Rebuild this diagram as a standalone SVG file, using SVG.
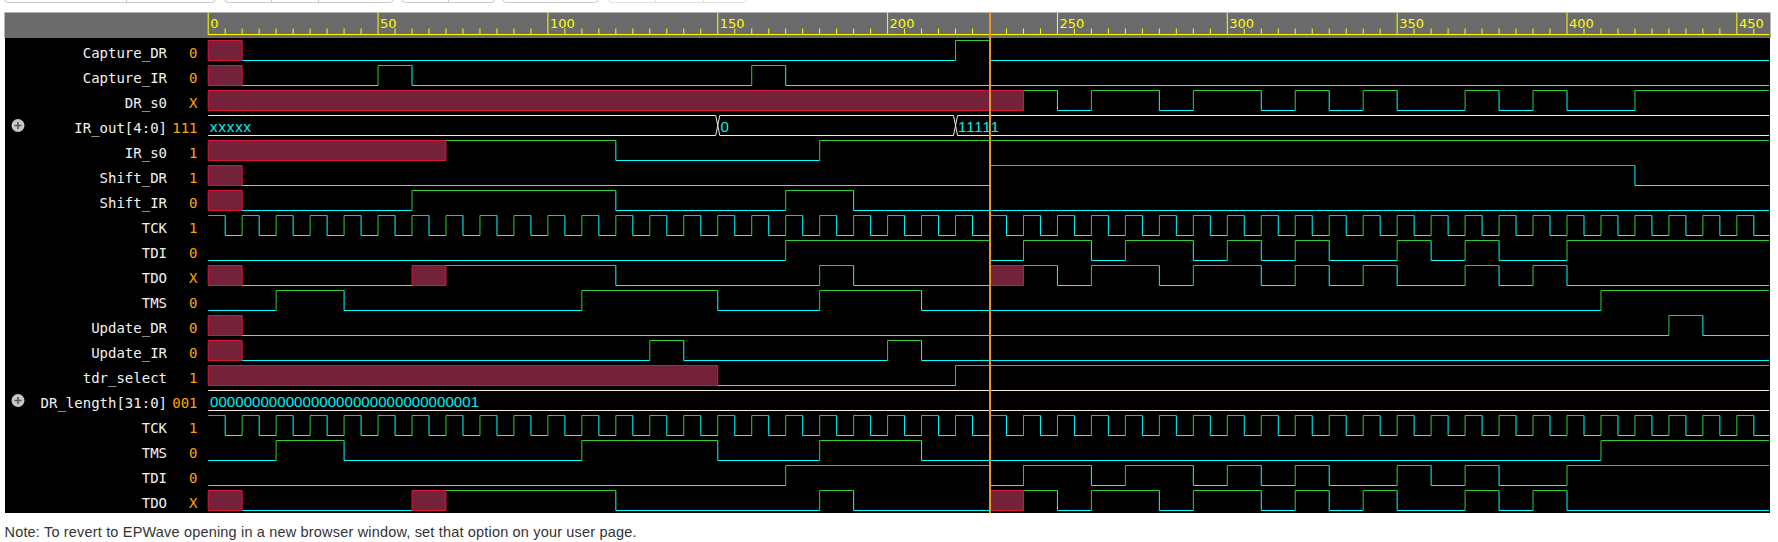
<svg xmlns="http://www.w3.org/2000/svg" width="1778" height="542" viewBox="0 0 1778 542">
<style>
.lbl{font-family:"DejaVu Sans Mono",monospace;font-size:14px;fill:#f2f2f2;text-anchor:end}
.val{font-family:"DejaVu Sans Mono",monospace;font-size:14px;fill:#ffa500;text-anchor:end}
.bt{font-family:"Liberation Sans",Arial,sans-serif;font-size:15px;fill:#00f0f0}
.rt{font-family:"DejaVu Sans",sans-serif;font-size:13px;fill:#ffff00}
.hi{fill:none;stroke:#32cd32;stroke-width:1;vector-effect:non-scaling-stroke}
.lo{fill:none;stroke:#00ffff;stroke-width:1;vector-effect:non-scaling-stroke}
.bus{fill:none;stroke:#f8ead8;stroke-width:1;vector-effect:non-scaling-stroke}
.x{fill:#73223a;stroke:#dc143c;stroke-width:1;vector-effect:non-scaling-stroke}
.rl{fill:none;stroke:#ffff00;stroke-width:1;vector-effect:non-scaling-stroke}
.btn{fill:#fff;stroke:#c8c8c8;stroke-width:1}
.btn2{fill:#fff;stroke:#e2e2e2;stroke-width:1}
</style>
<defs>
<g id="tck">
<path class="hi" d="M0,0H5 M10,20V0H15 M20,20V0H25 M30,20V0H35 M40,20V0H45 M50,20V0H55 M60,20V0H65 M70,20V0H75 M80,20V0H85 M90,20V0H95 M100,20V0H105 M110,20V0H115 M120,20V0H125 M130,20V0H135 M140,20V0H145 M150,20V0H155 M160,20V0H165 M170,20V0H175 M180,20V0H185 M190,20V0H195 M200,20V0H205 M210,20V0H215 M220,20V0H225 M230,20V0H235 M240,20V0H245 M250,20V0H255 M260,20V0H265 M270,20V0H275 M280,20V0H285 M290,20V0H295 M300,20V0H305 M310,20V0H315 M320,20V0H325 M330,20V0H335 M340,20V0H345 M350,20V0H355 M360,20V0H365 M370,20V0H375 M380,20V0H385 M390,20V0H395 M400,20V0H405 M410,20V0H415 M420,20V0H425 M430,20V0H435 M440,20V0H445 M450,20V0H455"/>
<path class="lo" d="M5,0V20H10 M15,0V20H20 M25,0V20H30 M35,0V20H40 M45,0V20H50 M55,0V20H60 M65,0V20H70 M75,0V20H80 M85,0V20H90 M95,0V20H100 M105,0V20H110 M115,0V20H120 M125,0V20H130 M135,0V20H140 M145,0V20H150 M155,0V20H160 M165,0V20H170 M175,0V20H180 M185,0V20H190 M195,0V20H200 M205,0V20H210 M215,0V20H220 M225,0V20H230 M235,0V20H240 M245,0V20H250 M255,0V20H260 M265,0V20H270 M275,0V20H280 M285,0V20H290 M295,0V20H300 M305,0V20H310 M315,0V20H320 M325,0V20H330 M335,0V20H340 M345,0V20H350 M355,0V20H360 M365,0V20H370 M375,0V20H380 M385,0V20H390 M395,0V20H400 M405,0V20H410 M415,0V20H420 M425,0V20H430 M435,0V20H440 M445,0V20H450 M455,0V20H459.5"/>
</g>
<g id="tdi">
<path class="lo" d="M0,20H170 M230,0V20H240 M260,0V20H270 M290,0V20H300 M310,0V20H320 M330,0V20H350 M360,0V20H370 M380,0V20H400"/>
<path class="hi" d="M170,20V0H230 M240,20V0H260 M270,20V0H290 M300,20V0H310 M320,20V0H330 M350,20V0H360 M370,20V0H380 M400,20V0H459.5"/>
</g>
<g id="tdo">
<rect class="x" x="0" y="0" width="10" height="20"/>
<rect class="x" x="60" y="0" width="10" height="20"/>
<rect class="x" x="230" y="0" width="10" height="20"/>
<path class="lo" d="M10,20H60 M120,0V20H180 M190,0V20H230 M250,0V20H260 M280,0V20H290 M310,0V20H320 M330,0V20H340 M350,0V20H370 M380,0V20H390 M400,0V20H459.5"/>
<path class="hi" d="M70,0H120 M180,20V0H190 M240,0H250 M260,20V0H280 M290,20V0H310 M320,20V0H330 M340,20V0H350 M370,20V0H380 M390,20V0H400"/>
</g>
<g id="tms">
<path class="lo" d="M0,20H20 M40,0V20H110 M150,0V20H180 M210,0V20H410"/>
<path class="hi" d="M20,20V0H40 M110,20V0H150 M180,20V0H210 M410,20V0H459.5"/>
</g>
<g id="plus">
<circle cx="0" cy="0" r="6.5" fill="#c8c8c8"/>
<path d="M-3.5,0H3.5 M0,-3.5V3.5" stroke="#555" stroke-width="1.6"/>
</g>
</defs>

<rect x="0" y="0" width="1778" height="542" fill="#ffffff"/>

<g id="toolbar">
<rect class="btn" x="4.5" y="-12" width="211" height="14.5" rx="4"/>
<path d="M126.5,-2V2.5" stroke="#c8c8c8"/>
<rect class="btn" x="224.5" y="-12" width="169" height="14.5" rx="4"/>
<path d="M271.5,-2V2.5 M318.5,-2V2.5" stroke="#c8c8c8"/>
<rect class="btn" x="401.5" y="-12" width="93.5" height="14.5" rx="4"/>
<path d="M448.5,-2V2.5" stroke="#c8c8c8"/>
<rect class="btn" x="502.5" y="-12" width="96" height="14.5" rx="4"/>
<rect class="btn2" x="608" y="-12" width="139" height="14.5" rx="4"/>
<path d="M655.5,-2V2.5 M703.5,-2V2.5" stroke="#e2e2e2"/>
</g>

<g id="ruler">
<rect x="4.5" y="12.5" width="1766" height="25.5" fill="#6b6b6b"/>
<rect x="5" y="38" width="1765" height="475" fill="#000000"/>
<g transform="translate(208.2 0) scale(3.397 1)">
<path class="rl" d="M0,34.5H459.5 M0,12.5V34.5 M50,12.5V34.5 M100,12.5V34.5 M150,12.5V34.5 M200,12.5V34.5 M250,12.5V34.5 M300,12.5V34.5 M350,12.5V34.5 M400,12.5V34.5 M450,12.5V34.5"/>
<path class="rl" d="M5,28.5V34.5 M10,28.5V34.5 M15,28.5V34.5 M20,28.5V34.5 M25,28.5V34.5 M30,28.5V34.5 M35,28.5V34.5 M40,28.5V34.5 M45,28.5V34.5 M55,28.5V34.5 M60,28.5V34.5 M65,28.5V34.5 M70,28.5V34.5 M75,28.5V34.5 M80,28.5V34.5 M85,28.5V34.5 M90,28.5V34.5 M95,28.5V34.5 M105,28.5V34.5 M110,28.5V34.5 M115,28.5V34.5 M120,28.5V34.5 M125,28.5V34.5 M130,28.5V34.5 M135,28.5V34.5 M140,28.5V34.5 M145,28.5V34.5 M155,28.5V34.5 M160,28.5V34.5 M165,28.5V34.5 M170,28.5V34.5 M175,28.5V34.5 M180,28.5V34.5 M185,28.5V34.5 M190,28.5V34.5 M195,28.5V34.5 M205,28.5V34.5 M210,28.5V34.5 M215,28.5V34.5 M220,28.5V34.5 M225,28.5V34.5 M230,28.5V34.5 M235,28.5V34.5 M240,28.5V34.5 M245,28.5V34.5 M255,28.5V34.5 M260,28.5V34.5 M265,28.5V34.5 M270,28.5V34.5 M275,28.5V34.5 M280,28.5V34.5 M285,28.5V34.5 M290,28.5V34.5 M295,28.5V34.5 M305,28.5V34.5 M310,28.5V34.5 M315,28.5V34.5 M320,28.5V34.5 M325,28.5V34.5 M330,28.5V34.5 M335,28.5V34.5 M340,28.5V34.5 M345,28.5V34.5 M355,28.5V34.5 M360,28.5V34.5 M365,28.5V34.5 M370,28.5V34.5 M375,28.5V34.5 M380,28.5V34.5 M385,28.5V34.5 M390,28.5V34.5 M395,28.5V34.5 M405,28.5V34.5 M410,28.5V34.5 M415,28.5V34.5 M420,28.5V34.5 M425,28.5V34.5 M430,28.5V34.5 M435,28.5V34.5 M440,28.5V34.5 M445,28.5V34.5 M455,28.5V34.5"/>
</g>
<text class="rt" x="210.2" y="27.5">0</text>
<text class="rt" x="380.1" y="27.5">50</text>
<text class="rt" x="549.9" y="27.5">100</text>
<text class="rt" x="719.8" y="27.5">150</text>
<text class="rt" x="889.6" y="27.5">200</text>
<text class="rt" x="1059.5" y="27.5">250</text>
<text class="rt" x="1229.3" y="27.5">300</text>
<text class="rt" x="1399.2" y="27.5">350</text>
<text class="rt" x="1569" y="27.5">400</text>
<text class="rt" x="1738.9" y="27.5">450</text>
</g>

<g id="row-capture-dr">
<text class="lbl" x="167" y="57.5">Capture_DR</text><text class="val" x="197.5" y="57.5">0</text>
<g transform="translate(208.2 0) scale(3.397 1)">
<rect class="x" x="0" y="40.5" width="10" height="20"/>
<path class="lo" d="M10,60.5H220 M230,40.5V60.5H459.5"/>
<path class="hi" d="M220,60.5V40.5H230"/>
</g>
</g>

<g id="row-capture-ir">
<text class="lbl" x="167" y="82.5">Capture_IR</text><text class="val" x="197.5" y="82.5">0</text>
<g transform="translate(208.2 0) scale(3.397 1)">
<rect class="x" x="0" y="65.5" width="10" height="20"/>
<path class="lo" d="M10,85.5H50 M60,65.5V85.5H160 M170,65.5V85.5H459.5"/>
<path class="hi" d="M50,85.5V65.5H60 M160,85.5V65.5H170"/>
</g>
</g>

<g id="row-dr-s0">
<text class="lbl" x="167" y="107.5">DR_s0</text><text class="val" x="197.5" y="107.5">X</text>
<g transform="translate(208.2 0) scale(3.397 1)">
<rect class="x" x="0" y="90.5" width="240" height="20"/>
<path class="hi" d="M240,90.5H250 M260,110.5V90.5H280 M290,110.5V90.5H310 M320,110.5V90.5H330 M340,110.5V90.5H350 M370,110.5V90.5H380 M390,110.5V90.5H400 M420,110.5V90.5H459.5"/>
<path class="lo" d="M250,90.5V110.5H260 M280,90.5V110.5H290 M310,90.5V110.5H320 M330,90.5V110.5H340 M350,90.5V110.5H370 M380,90.5V110.5H390 M400,90.5V110.5H420"/>
</g>
</g>

<g id="row-ir-out">
<use href="#plus" x="18" y="125.5"/>
<text class="lbl" x="167" y="132.5">IR_out[4:0]</text><text class="val" x="197.5" y="132.5">111</text>
<g transform="translate(208.2 0) scale(3.397 1)">
<path class="bus" d="M0,115.5H149.4 L150.6,135.5H219.4 L220.6,115.5H459.5 M0,135.5H149.4 L150.6,115.5H219.4 L220.6,135.5H459.5"/>
</g>
<text class="bt" x="210" y="131.5" textLength="41">xxxxx</text>
<text class="bt" x="720.5" y="131.5">0</text>
<text class="bt" x="958" y="131.5" textLength="41">11111</text>
</g>

<g id="row-ir-s0">
<text class="lbl" x="167" y="157.5">IR_s0</text><text class="val" x="197.5" y="157.5">1</text>
<g transform="translate(208.2 0) scale(3.397 1)">
<rect class="x" x="0" y="140.5" width="70" height="20"/>
<path class="hi" d="M70,140.5H120 M180,160.5V140.5H459.5"/>
<path class="lo" d="M120,140.5V160.5H180"/>
</g>
</g>

<g id="row-shift-dr">
<text class="lbl" x="167" y="182.5">Shift_DR</text><text class="val" x="197.5" y="182.5">1</text>
<g transform="translate(208.2 0) scale(3.397 1)">
<rect class="x" x="0" y="165.5" width="10" height="20"/>
<path class="lo" d="M10,185.5H230 M420,165.5V185.5H459.5"/>
<path class="hi" d="M230,185.5V165.5H420"/>
</g>
</g>

<g id="row-shift-ir">
<text class="lbl" x="167" y="207.5">Shift_IR</text><text class="val" x="197.5" y="207.5">0</text>
<g transform="translate(208.2 0) scale(3.397 1)">
<rect class="x" x="0" y="190.5" width="10" height="20"/>
<path class="lo" d="M10,210.5H60 M120,190.5V210.5H170 M190,190.5V210.5H459.5"/>
<path class="hi" d="M60,210.5V190.5H120 M170,210.5V190.5H190"/>
</g>
</g>

<g id="row-tck">
<text class="lbl" x="167" y="232.5">TCK</text><text class="val" x="197.5" y="232.5">1</text>
<g transform="translate(208.2 0) scale(3.397 1)"><use href="#tck" y="215.5"/></g>
</g>

<g id="row-tdi">
<text class="lbl" x="167" y="257.5">TDI</text><text class="val" x="197.5" y="257.5">0</text>
<g transform="translate(208.2 0) scale(3.397 1)"><use href="#tdi" y="240.5"/></g>
</g>

<g id="row-tdo">
<text class="lbl" x="167" y="282.5">TDO</text><text class="val" x="197.5" y="282.5">X</text>
<g transform="translate(208.2 0) scale(3.397 1)"><use href="#tdo" y="265.5"/></g>
</g>

<g id="row-tms">
<text class="lbl" x="167" y="307.5">TMS</text><text class="val" x="197.5" y="307.5">0</text>
<g transform="translate(208.2 0) scale(3.397 1)"><use href="#tms" y="290.5"/></g>
</g>

<g id="row-update-dr">
<text class="lbl" x="167" y="332.5">Update_DR</text><text class="val" x="197.5" y="332.5">0</text>
<g transform="translate(208.2 0) scale(3.397 1)">
<rect class="x" x="0" y="315.5" width="10" height="20"/>
<path class="lo" d="M10,335.5H430 M440,315.5V335.5H459.5"/>
<path class="hi" d="M430,335.5V315.5H440"/>
</g>
</g>

<g id="row-update-ir">
<text class="lbl" x="167" y="357.5">Update_IR</text><text class="val" x="197.5" y="357.5">0</text>
<g transform="translate(208.2 0) scale(3.397 1)">
<rect class="x" x="0" y="340.5" width="10" height="20"/>
<path class="lo" d="M10,360.5H130 M140,340.5V360.5H200 M210,340.5V360.5H459.5"/>
<path class="hi" d="M130,360.5V340.5H140 M200,360.5V340.5H210"/>
</g>
</g>

<g id="row-tdr-select">
<text class="lbl" x="167" y="382.5">tdr_select</text><text class="val" x="197.5" y="382.5">1</text>
<g transform="translate(208.2 0) scale(3.397 1)">
<rect class="x" x="0" y="365.5" width="150" height="20"/>
<path class="lo" d="M150,385.5H220"/>
<path class="hi" d="M220,385.5V365.5H459.5"/>
</g>
</g>

<g id="row-dr-length">
<use href="#plus" x="18" y="400.5"/>
<text class="lbl" x="167" y="407.5">DR_length[31:0]</text><text class="val" x="197.5" y="407.5">001</text>
<g transform="translate(208.2 0) scale(3.397 1)">
<path class="bus" d="M0,390.5H459.5 M0,410.5H459.5"/>
</g>
<text class="bt" x="210" y="406.5" textLength="269">00000000000000000000000000000001</text>
</g>

<g id="row-tck-2">
<text class="lbl" x="167" y="432.5">TCK</text><text class="val" x="197.5" y="432.5">1</text>
<g transform="translate(208.2 0) scale(3.397 1)"><use href="#tck" y="415.5"/></g>
</g>

<g id="row-tms-2">
<text class="lbl" x="167" y="457.5">TMS</text><text class="val" x="197.5" y="457.5">0</text>
<g transform="translate(208.2 0) scale(3.397 1)"><use href="#tms" y="440.5"/></g>
</g>

<g id="row-tdi-2">
<text class="lbl" x="167" y="482.5">TDI</text><text class="val" x="197.5" y="482.5">0</text>
<g transform="translate(208.2 0) scale(3.397 1)"><use href="#tdi" y="465.5"/></g>
</g>

<g id="row-tdo-2">
<text class="lbl" x="167" y="507.5">TDO</text><text class="val" x="197.5" y="507.5">X</text>
<g transform="translate(208.2 0) scale(3.397 1)"><use href="#tdo" y="490.5"/></g>
</g>

<g id="cursor">
<line x1="990" y1="12.5" x2="990" y2="513" stroke="#e8962a" stroke-width="2"/>
</g>

<text x="4.5" y="536.5" font-family="Liberation Sans, Arial, sans-serif" font-size="14.5" fill="#333333" textLength="632">Note: To revert to EPWave opening in a new browser window, set that option on your user page.</text>
</svg>
